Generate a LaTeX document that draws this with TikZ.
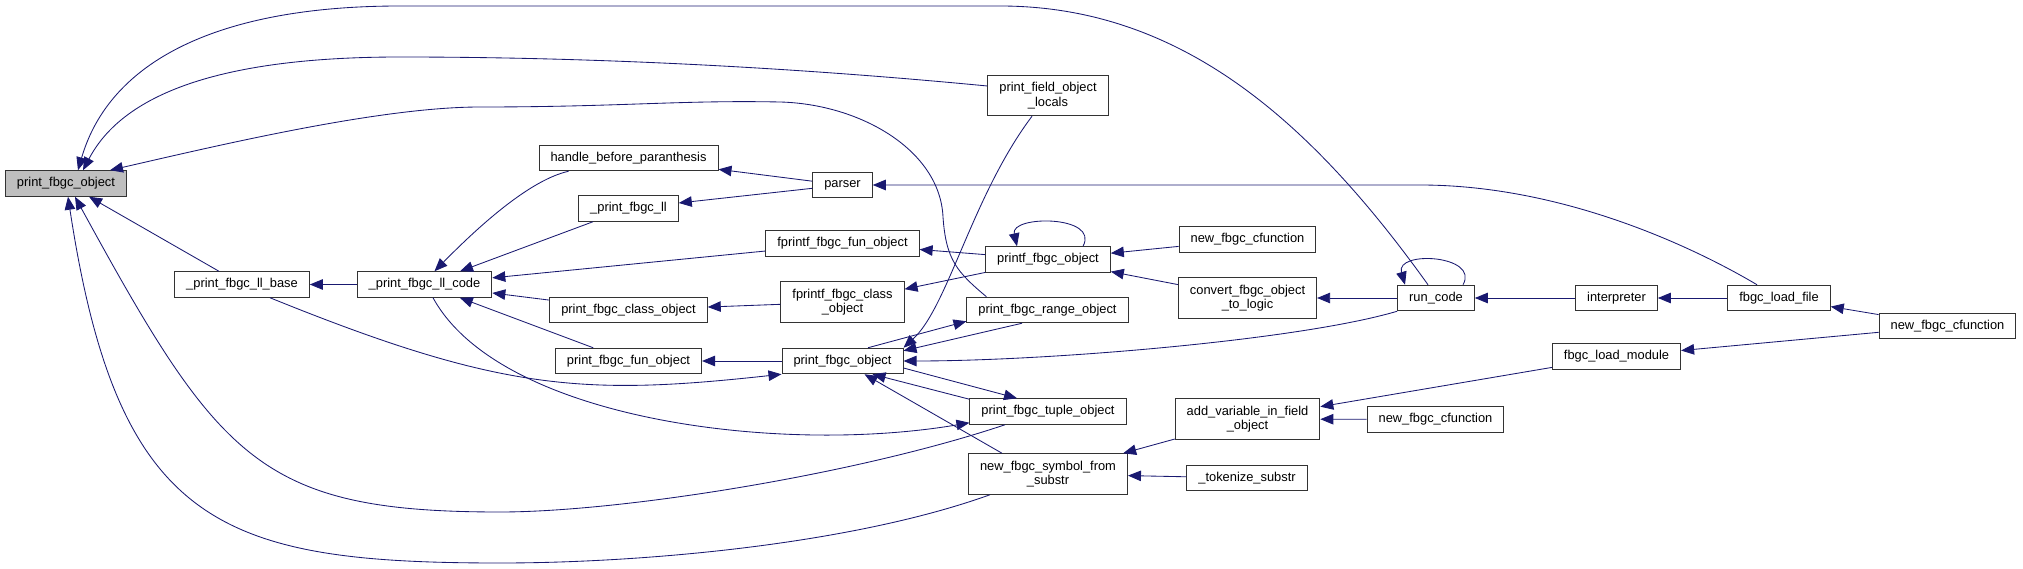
\documentclass[tikz,border=0pt]{standalone}
\usepackage{fontspec}
\setmainfont{Liberation Sans}
\usetikzlibrary{arrows.meta}
\definecolor{edgeblue}{HTML}{191970}
\definecolor{rootgray}{HTML}{BFBFBF}

\begin{document}
\begin{tikzpicture}[x=1pt,y=-1pt,
  fn/.style={draw=black!80,line width=1pt,fill=white,inner xsep=11.5pt,inner ysep=2pt,
    minimum height=25.5pt,align=center,font=\fontsize{12.87}{14.5}\selectfont},
  fn2/.style={fn,minimum height=40.5pt},
  call/.style={draw=edgeblue,line width=0.85pt,{Triangle[length=13pt,width=10.5pt]}-}]
\useasboundingbox (0,0) rectangle (2023,569);
% functions
\node[fn,fill=rootgray] (root) at (66,183.5) {print\_fbgc\_object};
\node[fn] (llbase) at (242,284.5) {\_print\_fbgc\_ll\_base};
\node[fn] (llcode) at (424.5,284.5) {\_print\_fbgc\_ll\_code};
\node[fn] (handle) at (628.5,158) {handle\_before\_paranthesis};
\node[fn] (printll) at (628.5,208.5) {\_print\_fbgc\_ll};
\node[fn] (classobj) at (628.5,310) {print\_fbgc\_class\_object};
\node[fn] (funobj) at (628.5,361) {print\_fbgc\_fun\_object};
\node[fn] (parser) at (842.5,185) {parser};
\node[fn] (ffun) at (842.5,243.5) {fprintf\_fbgc\_fun\_object};
\node[fn2] (fclass) at (842.5,302) {fprintf\_fbgc\_class\\\_object};
\node[fn] (obj) at (842.5,361) {print\_fbgc\_object};
\node[fn2] (locals) at (1048,95.5) {print\_field\_object\\\_locals};
\node[fn] (printf) at (1048,259.5) {printf\_fbgc\_object};
\node[fn] (range) at (1047.5,310) {print\_fbgc\_range\_object};
\node[fn] (tuple) at (1048,411.5) {print\_fbgc\_tuple\_object};
\node[fn2] (symbol) at (1048,474) {new\_fbgc\_symbol\_from\\\_substr};
\node[fn] (cfunA) at (1247.5,239.5) {new\_fbgc\_cfunction};
\node[fn2] (convert) at (1247.5,298) {convert\_fbgc\_object\\\_to\_logic};
\node[fn2] (addvar) at (1247.5,419) {add\_variable\_in\_field\\\_object};
\node[fn] (tokenize) at (1247,478) {\_tokenize\_substr};
\node[fn] (runcode) at (1436,298) {run\_code};
\node[fn] (cfunB) at (1435.5,419.5) {new\_fbgc\_cfunction};
\node[fn] (interp) at (1616.5,298) {interpreter};
\node[fn] (module) at (1616.5,356.5) {fbgc\_load\_module};
\node[fn] (loadfile) at (1779,298) {fbgc\_load\_file};
\node[fn] (cfunC) at (1947.5,326) {new\_fbgc\_cfunction};
% callers of the root
\draw[call] ([xshift=12pt]root.north) .. controls (110,60) and (220,6) .. (400,6) -- (1000,6)
  .. controls (1180,6) and (1310,120) .. ([xshift=-8pt]runcode.north);
\draw[call] ([xshift=17pt]root.north) .. controls (125,90) and (230,57) .. (400,57)
  .. controls (600,57) and (800,68) .. ([yshift=9.5pt]locals.west);
\draw[call] ([xshift=44pt]root.north) .. controls (220,145) and (380,107) .. (480,107)
  .. controls (620,107) and (680,100) .. (780,102) .. controls (860,104) and (940,150) .. (943,217)
  .. controls (946,260) and (957,272) .. ([xshift=20pt]range.north west);
\draw[call] (root) -- (llbase);
\draw[call] ([xshift=9pt]root.south) .. controls (219,460) and (260,512) .. (500,512)
  .. controls (620,512) and (855,475) .. ([xshift=-43pt]tuple.south);
\draw[call] ([xshift=2pt]root.south) .. controls (118,526) and (220,563) .. (500,563)
  .. controls (640,563) and (850,545) .. ([xshift=-58pt]symbol.south);
% left half
\draw[call] (llbase) -- (llcode);
\draw[call] (obj.south west) .. controls (583,396) and (500,391) .. ([xshift=28pt]llbase.south);
\draw[call] ([xshift=10pt]llcode.north) .. controls (480,225) and (530,180) .. ([xshift=30pt]handle.south west);
\draw[call] (llcode) -- (printll);
\draw[call] (llcode) -- (ffun);
\draw[call] (llcode) -- (classobj);
\draw[call] (llcode) -- (funobj);
\draw[call] ([yshift=2pt]tuple.south west) .. controls (780,455) and (500,420) .. ([xshift=8.5pt]llcode.south);
\draw[call] (classobj) -- (fclass);
\draw[call] (funobj) -- (obj);
\draw[call] (handle) -- (parser);
\draw[call] (printll) -- (parser);
\draw[call] (parser.east) -- (1420,185) .. controls (1560,185) and (1690,245) .. ([xshift=-22pt]loadfile.north);
\draw[call] (ffun) -- (printf);
\draw[call] (fclass) -- (printf);
% print_fbgc_object in the middle
\draw[call] ([yshift=2pt]range.south west) -- ([xshift=25.5pt]obj.north);
\draw[call] ([yshift=-3pt]obj.north east) -- ([xshift=-25.5pt]range.south);
\draw[call] (obj.north east) .. controls (948,307) and (972,196) .. ([xshift=-16pt]locals.south);
\draw[call] (obj.east) .. controls (1050,361) and (1300,340) .. (runcode.south west);
\draw[call] ([xshift=-31pt]tuple.north) -- ([yshift=-7pt]obj.east);
\draw[call] ([xshift=30pt]obj.south) -- ([yshift=-1pt]tuple.north west);
\draw[call] ([xshift=22pt]obj.south) -- ([xshift=-46pt]symbol.north);
% right half
\draw[call] ([xshift=-31pt]printf.north) .. controls (1010,215) and (1100,215) .. ([xshift=35pt]printf.north);
\draw[call] (printf) -- (cfunA);
\draw[call] (printf) -- (convert);
\draw[call] (convert) -- (runcode);
\draw[call] ([xshift=-31pt]runcode.north) .. controls (1395,250) and (1480,255) .. ([xshift=27pt]runcode.north);
\draw[call] (runcode) -- (interp);
\draw[call] (interp) -- (loadfile);
\draw[call] (loadfile) -- (cfunC);
\draw[call] (module) -- (cfunC);
\draw[call] (addvar) -- (module);
\draw[call] (addvar) -- (cfunB);
\draw[call] (symbol) -- (addvar);
\draw[call] (symbol) -- (tokenize);
\end{tikzpicture}
\end{document}
